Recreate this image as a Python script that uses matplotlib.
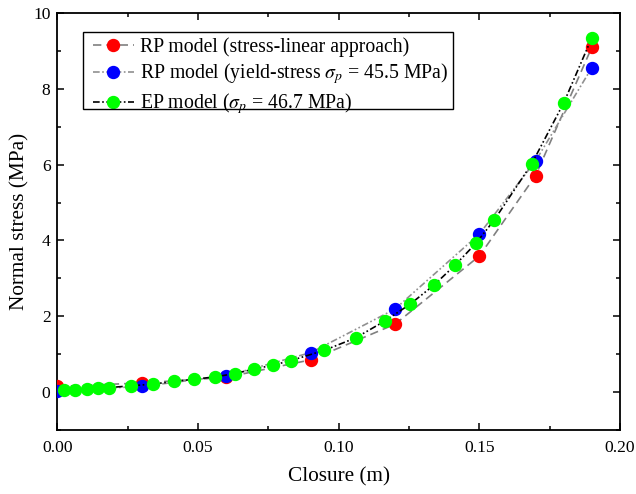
import numpy as np
import matplotlib
matplotlib.use('Agg')
import matplotlib.pyplot as plt
from matplotlib.patches import Rectangle
from matplotlib.ticker import MultipleLocator, FormatStrFormatter

plt.rcParams['font.family'] = ['Liberation Serif', 'DejaVu Serif']
plt.rcParams['mathtext.fontset'] = 'stix'

# RP model, stress-linear approach
rp_lin_x = [0.0, 0.03, 0.06, 0.09, 0.12, 0.15, 0.17, 0.19]
rp_lin_y = [0.15, 0.24, 0.39, 0.85, 1.79, 3.59, 5.71, 9.10]

# RP model, yield stress 45.5 MPa
rp_ys_x = [0.0, 0.03, 0.06, 0.09, 0.12, 0.15, 0.17, 0.19]
rp_ys_y = [0.04, 0.15, 0.43, 1.04, 2.19, 4.17, 6.10, 8.56]

# EP model, 46.7 MPa
ep_x = [0.0022, 0.0063, 0.0104, 0.0145, 0.0184, 0.0262, 0.0338, 0.0413,
        0.0487, 0.0559, 0.0632, 0.0700, 0.0766, 0.0829, 0.0948, 0.1060,
        0.1165, 0.1254, 0.1338, 0.1414, 0.1487, 0.1552, 0.1686, 0.1800, 0.1900]
ep_y = [0.06, 0.06, 0.08, 0.11, 0.12, 0.165, 0.21, 0.28,
        0.34, 0.40, 0.49, 0.61, 0.71, 0.83, 1.10, 1.43,
        1.88, 2.32, 2.82, 3.35, 3.92, 4.53, 6.02, 7.63, 9.35]

W, H = 636, 494
fig = plt.figure(figsize=(W / 100, H / 100), dpi=100)
ax = fig.add_axes([57.5 / W, (H - 430) / H, (620 - 57.5) / W, (430 - 13) / H])

ms = 8.6
dashdotdot = (0, (4, 1.5, 1, 1.5, 1, 1.5))
ax.plot(rp_lin_x, rp_lin_y, color='#808080', linestyle=(0, (5, 3)), linewidth=1.2,
        marker='o', markersize=ms, markerfacecolor='#ff0000', markeredgecolor='#ff0000',
        label='RP model (stress-linear approach)', zorder=3)
ax.plot(rp_ys_x, rp_ys_y, color='#909090', linestyle=dashdotdot, linewidth=1.2,
        marker='o', markersize=ms, markerfacecolor='#0000ff', markeredgecolor='#0000ff',
        label=r'RP model (yield-stress $\sigma_p$ = 45.5 MPa)', zorder=4)
ax.plot(ep_x, ep_y, color='black', linestyle=dashdotdot, linewidth=1.2,
        marker='o', markersize=ms, markerfacecolor='#00ff00', markeredgecolor='#00ff00',
        label=r'EP model ($\sigma_p$ = 46.7 MPa)', zorder=5)

ax.set_xlim(0, 0.20)
ax.set_ylim(-1, 10)
ax.xaxis.set_major_locator(MultipleLocator(0.05))
ax.xaxis.set_minor_locator(MultipleLocator(0.025))
ax.yaxis.set_major_locator(MultipleLocator(2))
ax.yaxis.set_minor_locator(MultipleLocator(1))
ax.xaxis.set_major_formatter(FormatStrFormatter('%.2f'))

ax.tick_params(which='both', direction='in', top=True, right=True, width=1.1, labelsize=12.6)
ax.tick_params(which='major', length=5.3)
ax.tick_params(axis='x', which='major', pad=7)
ax.tick_params(axis='y', which='major', pad=5)
ax.tick_params(which='minor', length=3)
for spine in ax.spines.values():
    spine.set_linewidth(1.3)

ax.set_xlabel('Closure (m)', fontsize=15.3, labelpad=8)
ax.set_ylabel('Normal stress (MPa)', fontsize=15.3, labelpad=2.5)

# legend without its own frame; the box is drawn separately so the
# subscripts can hang below it like in the original
ax.legend(loc='upper left', bbox_to_anchor=(0.057, 0.950), borderaxespad=0,
          fontsize=14.2, frameon=False,
          handlelength=2.1, handletextpad=0.3, labelspacing=0.25,
          borderpad=0.15, markerscale=1.0)
box = Rectangle((82.7 / W, 1 - 109.3 / H), (453 - 82.7) / W, (109.3 - 31.7) / H,
                transform=fig.transFigure, facecolor='none', edgecolor='black',
                linewidth=1.0, zorder=10)
fig.add_artist(box)

fig.savefig('out.png', dpi=100)
